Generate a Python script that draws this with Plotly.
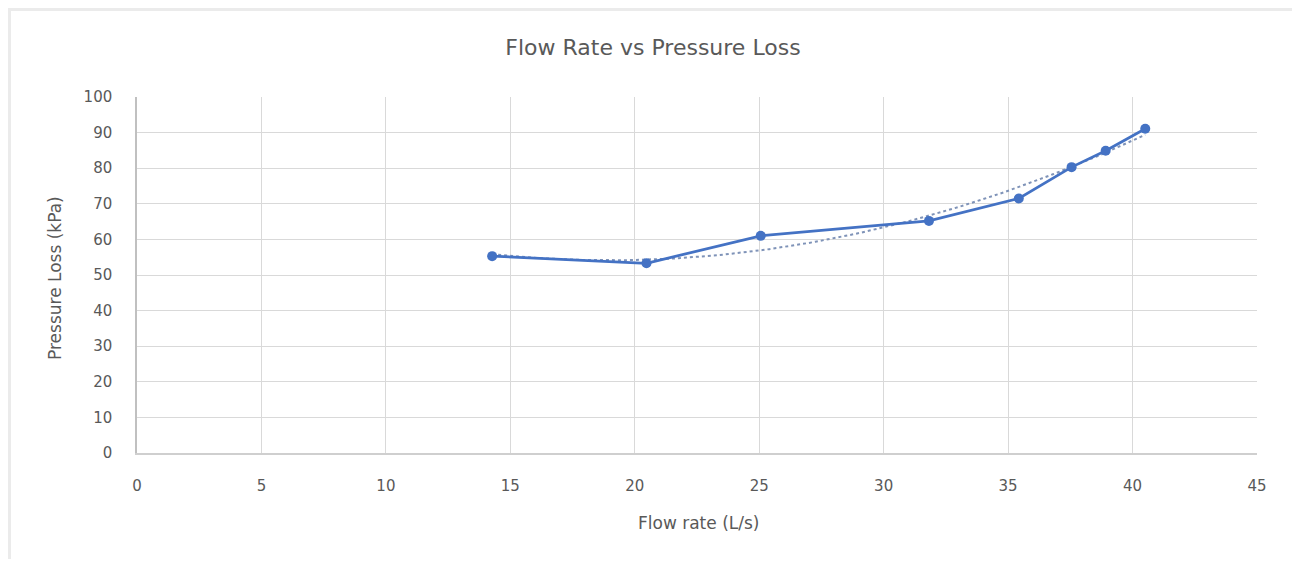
import numpy as np
import plotly.graph_objects as go

flow_rate = [14.27, 20.47, 25.06, 31.82, 35.43, 37.55, 38.92, 40.51]
pressure_loss = [55.3, 53.3, 61.0, 65.2, 71.5, 80.3, 84.9, 91.1]
x_ticks = [0, 5, 10, 15, 20, 25, 30, 35, 40, 45]
y_ticks = [0, 10, 20, 30, 40, 50, 60, 70, 80, 90, 100]

# polynomial trendline (order 2) fitted to the data
coef = np.polyfit(flow_rate, pressure_loss, 2)
tx = np.linspace(min(flow_rate), max(flow_rate), 100)
ty = np.polyval(coef, tx)

# page has an 8px body margin; figure coordinates are page minus 8
OFF = 8
W, H = 1284, 551
L, T = 137 - OFF, 97 - OFF
R = W - (1257 - OFF)
B = H - (453 - OFF)
pw, ph = W - L - R, H - T - B

def px(p):
    return (p - OFF - L) / pw

def py(q):
    return (H - B - (q - OFF)) / ph

FONT = "DejaVu Sans, Liberation Sans, sans-serif"
GREY = "#595959"

fig = go.Figure()
fig.add_trace(go.Scatter(x=tx, y=ty, mode="lines",
                         line=dict(color="#7f93b8", width=2, dash="dot"),
                         hoverinfo="skip", showlegend=False))
fig.add_trace(go.Scatter(x=flow_rate, y=pressure_loss, mode="lines+markers",
                         line=dict(color="#4472C4", width=2.75),
                         marker=dict(color="#4472C4", size=10, symbol="circle"),
                         showlegend=False))

fig.update_layout(
    width=W, height=H,
    margin=dict(l=L, r=R, t=T, b=B),
    paper_bgcolor="white", plot_bgcolor="white",
    font=dict(family=FONT, color=GREY),
    title=dict(text="Flow Rate vs Pressure Loss", x=(653 - OFF) / W, xanchor="center",
               y=1 - (47 - OFF) / H, yanchor="middle",
               font=dict(size=22, color=GREY, family=FONT)),
    xaxis=dict(range=[0, 45], tickvals=x_ticks, showgrid=True, gridcolor="#d9d9d9", gridwidth=1,
               zeroline=False, showline=True, linecolor="#cfcfcf", linewidth=1.5,
               ticks="", tickfont=dict(size=15, color=GREY, family=FONT), ticklabelstandoff=18,
               fixedrange=True),
    yaxis=dict(range=[0, 100], tickvals=y_ticks, showgrid=True, gridcolor="#d9d9d9", gridwidth=1,
               zeroline=False, showline=True, linecolor="#c0c0c0", linewidth=1.5,
               ticks="", tickfont=dict(size=15, color=GREY, family=FONT), ticklabelstandoff=20,
               fixedrange=True),
    annotations=[
        dict(text="Flow rate (L/s)", xref="paper", yref="paper", x=px(698), y=py(523),
             xanchor="center", yanchor="middle", showarrow=False,
             font=dict(size=17, color=GREY, family=FONT)),
        dict(text="Pressure Loss (kPa)", xref="paper", yref="paper", x=px(55), y=py(278),
             xanchor="center", yanchor="middle", showarrow=False, textangle=-90,
             font=dict(size=17, color=GREY, family=FONT)),
    ],
    shapes=[
        dict(type="rect", xref="paper", yref="paper", x0=px(OFF), x1=px(1300), y0=py(OFF + 3), y1=py(OFF),
             fillcolor="#ebebeb", line=dict(width=0), layer="below"),
        dict(type="rect", xref="paper", yref="paper", x0=px(OFF), x1=px(OFF + 3), y0=py(567), y1=py(OFF),
             fillcolor="#ebebeb", line=dict(width=0), layer="below"),
    ],
)
fig.write_html("out.html")
